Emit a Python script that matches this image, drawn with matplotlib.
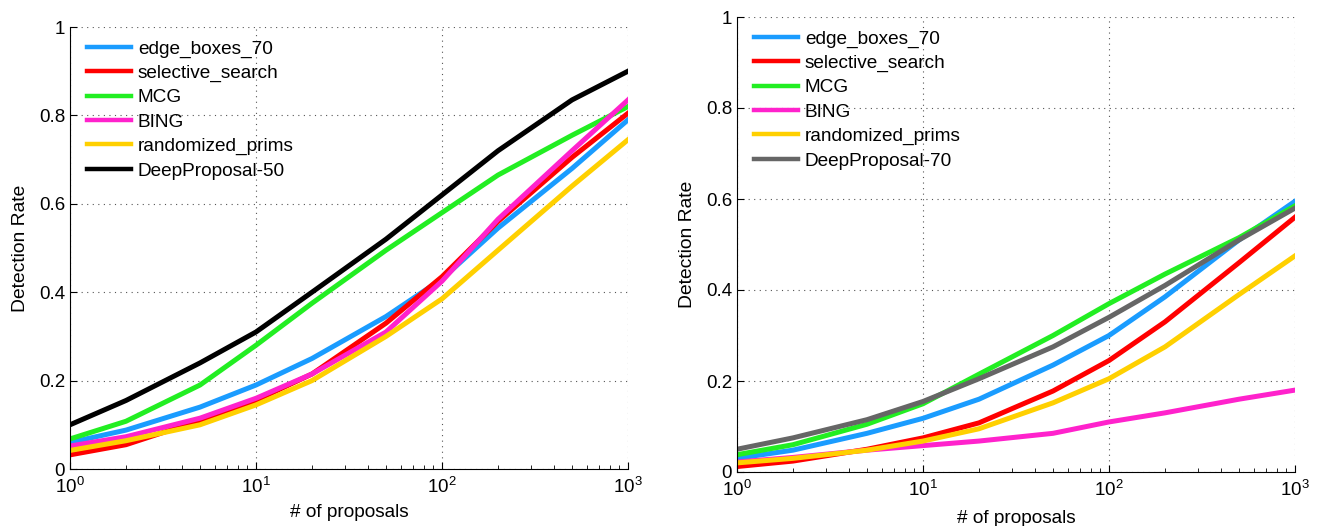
import matplotlib
matplotlib.use('Agg')
import matplotlib.pyplot as plt
from matplotlib.ticker import LogLocator, NullFormatter

plt.rcParams['font.family'] = ['Liberation Sans', 'DejaVu Sans']

proposals = [1, 2, 5, 10, 20, 50, 100, 200, 500, 1000]

methods_left = ['edge_boxes_70', 'selective_search', 'MCG', 'BING', 'randomized_prims', 'DeepProposal-50']
methods_right = ['edge_boxes_70', 'selective_search', 'MCG', 'BING', 'randomized_prims', 'DeepProposal-70']

# left panel
edge_l = [0.060, 0.088, 0.140, 0.190, 0.250, 0.345, 0.430, 0.545, 0.680, 0.790]
ss_l = [0.032, 0.055, 0.110, 0.155, 0.215, 0.330, 0.435, 0.560, 0.705, 0.805]
mcg_l = [0.068, 0.108, 0.190, 0.280, 0.375, 0.495, 0.580, 0.665, 0.755, 0.820]
bing_l = [0.052, 0.073, 0.115, 0.160, 0.215, 0.310, 0.425, 0.565, 0.720, 0.835]
prims_l = [0.042, 0.064, 0.100, 0.145, 0.200, 0.300, 0.385, 0.495, 0.640, 0.745]
deep50 = [0.100, 0.155, 0.240, 0.310, 0.400, 0.520, 0.620, 0.720, 0.835, 0.900]

# right panel
edge_r = [0.030, 0.048, 0.085, 0.118, 0.160, 0.235, 0.300, 0.385, 0.510, 0.595]
ss_r = [0.012, 0.024, 0.050, 0.075, 0.108, 0.178, 0.245, 0.330, 0.460, 0.560]
mcg_r = [0.038, 0.060, 0.105, 0.150, 0.215, 0.300, 0.370, 0.435, 0.515, 0.585]
bing_r = [0.022, 0.032, 0.048, 0.058, 0.068, 0.085, 0.110, 0.130, 0.160, 0.180]
prims_r = [0.020, 0.030, 0.048, 0.068, 0.095, 0.152, 0.205, 0.275, 0.390, 0.475]
deep70 = [0.050, 0.075, 0.115, 0.155, 0.205, 0.275, 0.340, 0.410, 0.510, 0.580]

colors_left = ['#1a9cff', '#ff0000', '#22ee22', '#ff22cc', '#ffd000', '#000000']
colors_right = ['#1a9cff', '#ff0000', '#22ee22', '#ff22cc', '#ffd000', '#666666']

fig = plt.figure(figsize=(13.2, 5.26), dpi=100)
fig.set_facecolor('white')
ax1 = fig.add_axes([70 / 1320, 1 - 469 / 526, 558 / 1320, 442 / 526])
ax2 = fig.add_axes([737 / 1320, 1 - 472 / 526, 558 / 1320, 455 / 526])

panels = [
    (ax1, methods_left, [edge_l, ss_l, mcg_l, bing_l, prims_l, deep50], colors_left, 442, 5),
    (ax2, methods_right, [edge_r, ss_r, mcg_r, bing_r, prims_r, deep70], colors_right, 455, 7),
]

for ax, names, series, cols, h_px, xpad in panels:
    for name, vals, c in zip(names, series, cols):
        ax.plot(proposals, vals, color=c, lw=3.6, label=name)

    ax.set_xscale('log')
    ax.set_xlim(1, 1000)
    ax.set_ylim(0, 1)
    ax.set_yticks([0, 0.2, 0.4, 0.6, 0.8, 1])
    ax.set_yticklabels(['0', '0.2', '0.4', '0.6', '0.8', '1'])
    ax.xaxis.set_minor_locator(LogLocator(base=10, subs=range(2, 10)))
    ax.xaxis.set_minor_formatter(NullFormatter())

    ax.grid(True, which='major', ls=(0, (1, 4)), color='#555555', lw=0.8)
    ax.spines['top'].set_visible(False)
    ax.spines['right'].set_visible(False)
    ax.tick_params(which='both', direction='in', labelsize=13.5, colors='black')
    ax.tick_params(which='major', length=5)
    ax.tick_params(which='minor', length=3)
    ax.tick_params(axis='x', pad=6)

    ax.set_xlabel('# of proposals', fontsize=13.7, labelpad=xpad)
    ax.set_ylabel('Detection Rate', fontsize=13.9, labelpad=7)

    leg = ax.legend(loc='upper left', frameon=False, fontsize=13.7, handlelength=2.3,
                    handletextpad=0.38, labelspacing=0.37, borderaxespad=0, borderpad=0,
                    bbox_to_anchor=(17 / 558, 1 - 13 / h_px))
    for hl in leg.get_lines():
        hl.set_linewidth(3.2)

fig.savefig('out.png', dpi=100, facecolor='white')
